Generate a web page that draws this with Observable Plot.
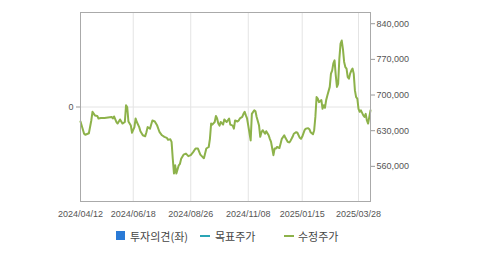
<!DOCTYPE html>
<html><head><meta charset="utf-8">
<script src="https://cdn.jsdelivr.net/npm/d3@7"></script>
<script src="https://cdn.jsdelivr.net/npm/@observablehq/plot@0.6"></script>
<style>
body{margin:0;background:#fff;font-family:"Liberation Sans",Arial,sans-serif;}
#wrap{position:relative;width:479px;height:255px;overflow:hidden;background:#fff}
#chart{position:absolute;left:50px;top:0;width:429px;height:225px;overflow:hidden}
#legend{position:absolute;top:0;left:0;width:479px;height:255px;font-family:"Noto Sans CJK KR",sans-serif;font-size:11px;color:#444;pointer-events:none}
#legend .it{position:absolute;white-space:nowrap;line-height:14px}
#legend .sw{position:absolute}
</style></head><body>
<div id="wrap"><div id="chart"></div><div id="legend"></div></div>
<script>
// trading-day index since 2024/04/12 and adjusted close price (수정주가)
const days = [0,3,4,7,9,10,12,14,15,17,20,23,26,27,28,30,31,33,34,35,37,38,39,40,41,42,43,45,46,47,49,50,52,54,55,56,58,59,60,62,64,66,68,70,72,73,75,76,77,78,79,80,82,83,84,86,88,90,92,94,96,98,100,102,103,105,107,108,109,110,112,113,114,115,116,117,119,120,122,124,125,127,128,129,131,132,133,135,136,137,138,139,140,142,143,145,146,147,149,150,151,152,154,155,157,158,159,160,161,162,163,164,166,167,168,170,171,173,174,175,177,178,180,181,183,184,185,187,188,190,191,192,194,195,196,197,198,199,201,202,203,204,205,206,208,209,210,211,212,213,214,215,216,217,218,219,220,221,222,223,224,225,226,227,228,229,230,231,232,233,234,236,237,238,239,240,241,242];
const prices = [648000,624000,622000,625000,650000,667000,660000,659000,654000,655000,655000,656000,657000,654000,658000,647000,644000,652000,648000,644000,647000,680000,676000,648000,644000,640000,626000,637000,654000,647000,637000,629000,621000,619000,627000,637000,634000,642000,650000,648000,640000,627000,621000,618000,616000,612000,613000,608000,575000,546000,562000,546000,562000,565000,575000,583000,585000,580000,582000,588000,595000,595000,583000,578000,576000,595000,598000,614000,644000,642000,647000,659000,654000,644000,640000,647000,642000,652000,647000,654000,642000,640000,634000,650000,648000,650000,654000,657000,663000,667000,660000,654000,640000,611000,663000,670000,668000,657000,640000,618000,627000,631000,624000,629000,621000,614000,608000,595000,582000,595000,595000,598000,596000,605000,614000,621000,616000,608000,607000,609000,618000,624000,627000,626000,616000,614000,618000,631000,634000,635000,633000,627000,623000,631000,657000,696000,693000,686000,690000,673000,680000,675000,690000,699000,716000,742000,748000,762000,768000,739000,716000,722000,771000,801000,807000,790000,765000,755000,752000,735000,732000,742000,748000,752000,742000,709000,696000,693000,673000,667000,670000,660000,657000,663000,650000,644000,657000,670000];
const tickDays = [0,44,92,140,185,232];
const tickLabels = ["2024/04/12","2024/06/18","2024/08/26","2024/11/08","2025/01/15","2025/03/28"];
const priceTicks = [560000,630000,700000,770000,840000];
const priceDomain = [491000,862000];
const opinionDomain = [-1,1];
const opinionTicks = [0];
const legendNames = ["투자의견(좌)","목표주가","수정주가"];
const legendColors = ["#2a7ad6","#2aa5b5","#8db24a"];

const data = days.map((d,i)=>({day:d, price:prices[i]}));
const opinionToPrice = d3.scaleLinear().domain(opinionDomain).range(priceDomain);
const fmt = d3.format(",");

const chart = Plot.plot({
  width: 429, height: 225,
  marginLeft: 30, marginRight: 109, marginTop: 12, marginBottom: 24,
  style: {fontFamily: '"Liberation Sans", Arial, sans-serif', fontSize: "9px", color: "#555", background: "#fff"},
  x: {domain: [0, 242]},
  y: {domain: priceDomain},
  marks: [
    Plot.gridX(tickDays, {stroke: "#e4e4e4", strokeOpacity: 1}),
    Plot.ruleY(opinionTicks.map(opinionToPrice), {stroke: "#e4e4e4"}),
    Plot.line(data, {x: "day", y: "price", stroke: legendColors[2], strokeWidth: 2, curve: "linear"}),
    Plot.frame({stroke: "#aaa"}),
    Plot.axisX({ticks: tickDays, tickFormat: d => tickLabels[tickDays.indexOf(d)], tickSize: 0, tickPadding: 9, label: null, fill: "#555"}),
    Plot.axisY({anchor: "right", ticks: priceTicks, tickFormat: fmt, tickSize: 4, tickPadding: 2, label: null, stroke: "#999", fill: "#555"}),
    Plot.axisY({anchor: "left", ticks: opinionTicks.map(opinionToPrice), tickFormat: () => "0", tickSize: 4, tickPadding: 3, label: null, stroke: "#999", fill: "#555"})
  ]
});
document.getElementById("chart").appendChild(chart);

const lg = document.getElementById("legend");
const items = [
  {sw:{left:116,top:231,width:9,height:9}, tx:130},
  {sw:{left:200,top:235,width:10,height:2}, tx:215},
  {sw:{left:284,top:235,width:10,height:2}, tx:298}
];
items.forEach((it,i)=>{
  const s = document.createElement("div");
  s.className = "sw";
  Object.assign(s.style, {left: it.sw.left+"px", top: it.sw.top+"px", width: it.sw.width+"px", height: it.sw.height+"px", background: legendColors[i]});
  lg.appendChild(s);
  const t = document.createElement("div");
  t.className = "it";
  t.style.left = it.tx + "px";
  t.style.top = "229px";
  t.textContent = legendNames[i];
  lg.appendChild(t);
});
</script>
</body></html>
